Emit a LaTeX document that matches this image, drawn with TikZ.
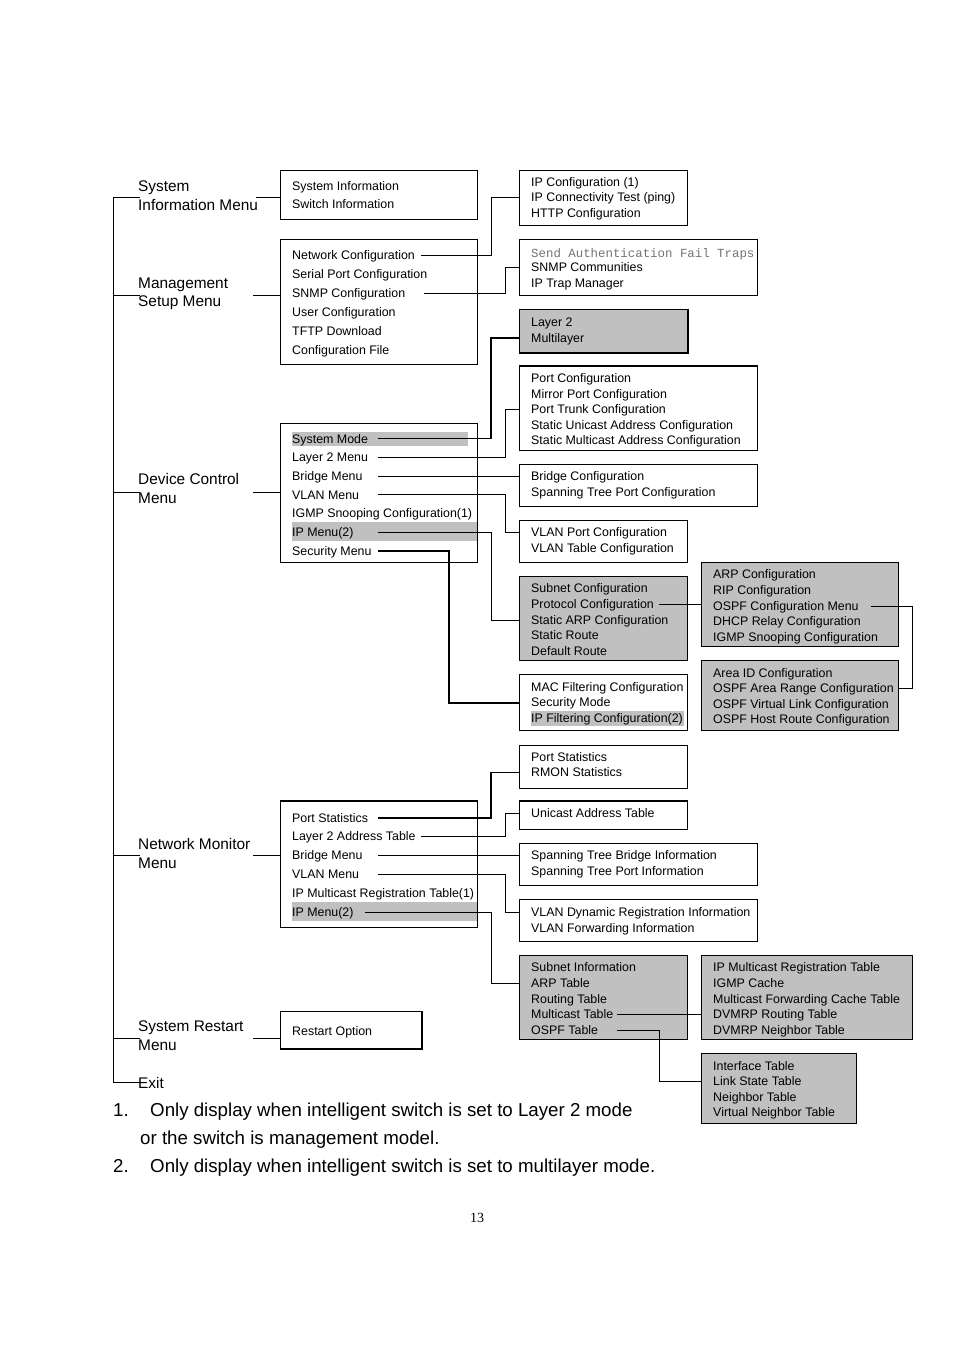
\documentclass[tikz,border=0pt]{standalone}
\usepackage{fontspec}
\setmainfont{Liberation Sans}
\setmonofont{Liberation Mono}
\newfontfamily\pagenumfont{Liberation Serif}
\definecolor{menugray}{RGB}{192,192,192}
\tikzset{
  menubox/.style={draw, line width=0.9pt, inner sep=0pt, anchor=north west},
  item/.style={anchor=west, inner sep=0pt, text height=8.9pt, text depth=0pt,
    font=\fontsize{12.4}{15}\selectfont},
  menu/.style={anchor=north west, inner sep=0pt, align=left,
    font=\fontsize{15.4}{18.8}\selectfont},
  note/.style={anchor=base west, inner sep=0pt, font=\fontsize{18.7}{22}\selectfont},
  link/.style={line width=0.9pt},
  heavy/.style={line width=2pt},
}
\begin{document}
\begin{tikzpicture}[x=1pt, y=-1pt]
  \useasboundingbox (0,0) rectangle (954,1351);
  % boxes
  \node[menubox, minimum width=197, minimum height=49] (sysinfo) at (280,170) {};
  \node[menubox, minimum width=197, minimum height=125] (mgmt) at (280,239) {};
  \node[menubox, minimum width=197, minimum height=139] (device) at (280,423) {};
  \node[menubox, minimum width=197, minimum height=126] (netmon) at (280,801) {};
  \node[menubox, minimum width=141, minimum height=37] (restart) at (280,1011) {};
  \node[menubox, minimum width=168, minimum height=55] (ipcfg) at (519,170) {};
  \node[menubox, minimum width=238, minimum height=56] (snmp) at (519,239) {};
  \node[menubox, fill=menugray, minimum width=168, minimum height=43] (mode) at (519,309) {};
  \node[menubox, minimum width=238, minimum height=84] (portcfg) at (519,366) {};
  \node[menubox, minimum width=238, minimum height=42] (bridge) at (519,464) {};
  \node[menubox, minimum width=168, minimum height=42] (vlan) at (519,520) {};
  \node[menubox, fill=menugray, minimum width=168, minimum height=84] (ipmenu) at (519,576) {};
  \node[menubox, minimum width=168, minimum height=56] (security) at (519,674) {};
  \node[menubox, fill=menugray, minimum width=197, minimum height=84] (protocol) at (701,562) {};
  \node[menubox, fill=menugray, minimum width=197, minimum height=70] (ospf) at (701,660) {};
  \node[menubox, minimum width=168, minimum height=43] (stats) at (519,745) {};
  \node[menubox, minimum width=168, minimum height=28] (unicast) at (519,801) {};
  \node[menubox, minimum width=238, minimum height=42] (stp) at (519,843) {};
  \node[menubox, minimum width=238, minimum height=42] (vlaninfo) at (519,899) {};
  \node[menubox, fill=menugray, minimum width=168, minimum height=84] (ipinfo) at (519,955) {};
  \node[menubox, fill=menugray, minimum width=211, minimum height=84] (mcast) at (701,955) {};
  \node[menubox, fill=menugray, minimum width=155, minimum height=70] (ospftab) at (701,1053) {};
  % heavier edges
  \draw[heavy] (mode.north east) -- (mode.south east) -- (mode.south west);
  \draw[heavy] (portcfg.north west) -- (portcfg.north east);
  \draw[heavy] (netmon.north west) -- (netmon.north east);
  \draw[heavy] (unicast.north west) -- (unicast.north east);
  \draw[heavy] (restart.north east) -- (restart.south east) -- (restart.south west);
  % highlighted rows
  \fill[menugray] (292,432) rectangle (468,446);
  \fill[menugray] (292,522) rectangle (477,541);
  \fill[menugray] (292,902) rectangle (477,921);
  \fill[menugray] (531,711) rectangle (684,726);
  % top level menus
  \node[menu] (sysmenu) at (138,180.7) {System\\Information Menu};
  \node[menu] (mgmtmenu) at (138,277.3) {Management\\Setup Menu};
  \node[menu] (devmenu) at (138,473) {Device Control\\Menu};
  \node[menu] (netmenu) at (138,838) {Network Monitor\\Menu};
  \node[menu] (restartmenu) at (138,1021) {System Restart\\Menu};
  \node[menu] (exit) at (138,1077) {Exit};
  % menu items
  \node[item] (sysinfo1) at (292,185.8) {System Information};
  \node[item] (sysinfo2) at (292,204.3) {Switch Information};
  \node[item] (mgmt1) at (292,255.5) {Network Configuration};
  \node[item] (mgmt2) at (292,274.5) {Serial Port Configuration};
  \node[item] (mgmt3) at (292,293.5) {SNMP Configuration};
  \node[item] (mgmt4) at (292,312.5) {User Configuration};
  \node[item] (mgmt5) at (292,331) {TFTP Download};
  \node[item] (mgmt6) at (292,350) {Configuration File};
  \node[item] (dev1) at (292,438.7) {System Mode};
  \node[item] (dev2) at (292,457.5) {Layer 2 Menu};
  \node[item] (dev3) at (292,476) {Bridge Menu};
  \node[item] (dev4) at (292,494.7) {VLAN Menu};
  \node[item] (dev5) at (292,513.5) {IGMP Snooping Configuration(1)};
  \node[item] (dev6) at (292,532) {IP Menu(2)};
  \node[item] (dev7) at (292,550.8) {Security Menu};
  \node[item] (net1) at (292,818) {Port Statistics};
  \node[item] (net2) at (292,836.5) {Layer 2 Address Table};
  \node[item] (net3) at (292,855.5) {Bridge Menu};
  \node[item] (net4) at (292,874) {VLAN Menu};
  \node[item] (net5) at (292,893) {IP Multicast Registration Table(1)};
  \node[item] (net6) at (292,912) {IP Menu(2)};
  \node[item] (restart1) at (292,1031) {Restart Option};
  \node[item] (ipcfg1) at (531,182) {IP Configuration (1)};
  \node[item] (ipcfg2) at (531,197.5) {IP Connectivity Test (ping)};
  \node[item] (ipcfg3) at (531,213) {HTTP Configuration};
  \node[item, text=black!55, font=\fontsize{12.4}{15}\ttfamily\selectfont] (snmp1) at (531,253) {Send Authentication Fail Traps};
  \node[item] (snmp2) at (531,267.5) {SNMP Communities};
  \node[item] (snmp3) at (531,283) {IP Trap Manager};
  \node[item] (mode1) at (531,322) {Layer 2};
  \node[item] (mode2) at (531,338) {Multilayer};
  \node[item] (portcfg1) at (531,378) {Port Configuration};
  \node[item] (portcfg2) at (531,394) {Mirror Port Configuration};
  \node[item] (portcfg3) at (531,409.5) {Port Trunk Configuration};
  \node[item] (portcfg4) at (531,425) {Static Unicast Address Configuration};
  \node[item] (portcfg5) at (531,440.5) {Static Multicast Address Configuration};
  \node[item] (bridge1) at (531,476.5) {Bridge Configuration};
  \node[item] (bridge2) at (531,492) {Spanning Tree Port Configuration};
  \node[item] (vlan1) at (531,532.5) {VLAN Port Configuration};
  \node[item] (vlan2) at (531,548) {VLAN Table Configuration};
  \node[item] (ipmenu1) at (531,588.5) {Subnet Configuration};
  \node[item] (ipmenu2) at (531,604) {Protocol Configuration};
  \node[item] (ipmenu3) at (531,620) {Static ARP Configuration};
  \node[item] (ipmenu4) at (531,635.5) {Static Route};
  \node[item] (ipmenu5) at (531,651) {Default Route};
  \node[item] (security1) at (531,687) {MAC Filtering Configuration};
  \node[item] (security2) at (531,702.5) {Security Mode};
  \node[item] (security3) at (531,718) {IP Filtering Configuration(2)};
  \node[item] (protocol1) at (713,574.5) {ARP Configuration};
  \node[item] (protocol2) at (713,590) {RIP Configuration};
  \node[item] (protocol3) at (713,606) {OSPF Configuration Menu};
  \node[item] (protocol4) at (713,621.5) {DHCP Relay Configuration};
  \node[item] (protocol5) at (713,637) {IGMP Snooping Configuration};
  \node[item] (ospf1) at (713,673) {Area ID Configuration};
  \node[item] (ospf2) at (713,688.5) {OSPF Area Range Configuration};
  \node[item] (ospf3) at (713,704) {OSPF Virtual Link Configuration};
  \node[item] (ospf4) at (713,719.5) {OSPF Host Route Configuration};
  \node[item] (stats1) at (531,757) {Port Statistics};
  \node[item] (stats2) at (531,772.5) {RMON Statistics};
  \node[item] (unicast1) at (531,813.5) {Unicast Address Table};
  \node[item] (stp1) at (531,855.5) {Spanning Tree Bridge Information};
  \node[item] (stp2) at (531,871) {Spanning Tree Port Information};
  \node[item] (vlaninfo1) at (531,912.5) {VLAN Dynamic Registration Information};
  \node[item] (vlaninfo2) at (531,928) {VLAN Forwarding Information};
  \node[item] (ipinfo1) at (531,967.5) {Subnet Information};
  \node[item] (ipinfo2) at (531,983) {ARP Table};
  \node[item] (ipinfo3) at (531,999) {Routing Table};
  \node[item] (ipinfo4) at (531,1014.5) {Multicast Table};
  \node[item] (ipinfo5) at (531,1030) {OSPF Table};
  \node[item] (mcast1) at (713,967.5) {IP Multicast Registration Table};
  \node[item] (mcast2) at (713,983) {IGMP Cache};
  \node[item] (mcast3) at (713,999) {Multicast Forwarding Cache Table};
  \node[item] (mcast4) at (713,1014.5) {DVMRP Routing Table};
  \node[item] (mcast5) at (713,1030) {DVMRP Neighbor Table};
  \node[item] (ospftab1) at (713,1066) {Interface Table};
  \node[item] (ospftab2) at (713,1081.5) {Link State Table};
  \node[item] (ospftab3) at (713,1097) {Neighbor Table};
  \node[item] (ospftab4) at (713,1112.5) {Virtual Neighbor Table};
  % trunk and branches
  \coordinate (b1) at (113,197);
  \coordinate (b2) at (113,295);
  \coordinate (b3) at (113,492);
  \coordinate (b4) at (113,855);
  \coordinate (b5) at (113,1038);
  \coordinate (b6) at (113,1082);
  \draw[link] (b1) -- (b6);
  \draw[link] (b1) -- ([xshift=2pt]b1 -| sysmenu.west);
  \draw[link] (b2) -- ([xshift=2pt]b2 -| mgmtmenu.west);
  \draw[link] (b3) -- ([xshift=2pt]b3 -| devmenu.west);
  \draw[link] (b4) -- ([xshift=2pt]b4 -| netmenu.west);
  \draw[link] (b5) -- ([xshift=2pt]b5 -| restartmenu.west);
  \draw[link] (b6) -- ([xshift=2pt]b6 -| exit.west);
  \draw[link] (b1 -| 256,0) -- (b1 -| sysinfo.west);
  \draw[link] (b2 -| 253,0) -- (b2 -| mgmt.west);
  \draw[link] (b3 -| 253,0) -- (b3 -| device.west);
  \draw[link] (b4 -| 253,0) -- (b4 -| netmon.west);
  \draw[link] (b5 -| 253,0) -- (b5 -| restart.west);
  % management setup
  \draw[link] (mgmt1 -| 421,0) -- (mgmt1 -| 491,0) |- (ipcfg2 -| ipcfg.west);
  \draw[link] (mgmt3 -| 424,0) -- (mgmt3 -| 505,0) |- (snmp2 -| snmp.west);
  % device control
  \draw[line width=1.5pt] (dev1 -| 378,0) -- (dev1 -| 491,0) |- (mode2 -| mode.west);
  \draw[link] (dev2 -| 378,0) -- (dev2 -| 505,0) |- (portcfg3 -| portcfg.west);
  \draw[link] (dev3 -| 378,0) -- (dev3 -| bridge.west);
  \draw[link] (dev4 -| 378,0) -- (dev4 -| 505,0) |- (vlan1 -| vlan.west);
  \draw[link] (dev6 -| 378,0) -- (dev6 -| 491,0) |- (ipmenu3 -| ipmenu.west);
  \draw[heavy] (dev7 -| 378,0) -- (dev7 -| 449,0) |- (security2 -| security.west);
  \draw[link] (ipmenu2 -| 659,0) -- (ipmenu2 -| protocol.west);
  \draw[link] (protocol3 -| 871,0) -- (protocol3 -| 912,0) |- (ospf2 -| ospf.east);
  % network monitor
  \draw[line width=1.5pt] (net1 -| 378,0) -- (net1 -| 491,0) |- (stats2 -| stats.west);
  \draw[link] (net2 -| 421,0) -- (net2 -| 505,0) |- (unicast1 -| unicast.west);
  \draw[link] (net3 -| 378,0) -- (net3 -| stp.west);
  \draw[link] (net4 -| 378,0) -- (net4 -| 505,0) |- (vlaninfo1 -| vlaninfo.west);
  \draw[link] (net6 -| 365,0) -- (net6 -| 491,0) |- (ipinfo2 -| ipinfo.west);
  \draw[link] (ipinfo4 -| 617,0) -- (ipinfo4 -| mcast.west);
  \draw[link] (ipinfo5 -| 617,0) -- (ipinfo5 -| 659,0) |- (ospftab2 -| ospftab.west);
  % notes
  \node[note] (note1num) at (113,1116.5) {1.};
  \node[note] (note1) at (150,1116.5) {Only display when intelligent switch is set to Layer 2 mode};
  \node[note] (note1b) at (140,1144.5) {or the switch is management model.};
  \node[note] (note2num) at (113,1172.5) {2.};
  \node[note] (note2) at (150,1172.5) {Only display when intelligent switch is set to multilayer mode.};
  \node[anchor=base, inner sep=0pt, font=\pagenumfont\fontsize{14}{16}\selectfont] (pagenum) at (477,1222) {13};
\end{tikzpicture}
\end{document}
